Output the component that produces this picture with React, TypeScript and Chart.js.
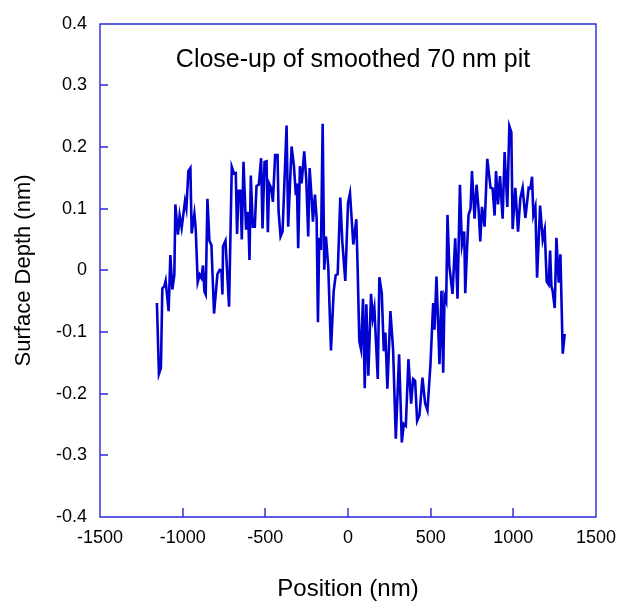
import React, { useEffect, useRef } from "react";
import { Chart, registerables } from "chart.js";

Chart.register(...registerables);

const chartTitle = "Close-up of smoothed 70 nm pit";
const xAxisTitle = "Position (nm)";
const yAxisTitle = "Surface Depth (nm)";

const positions = [
  -1155.8, -1143.6, -1131.5, -1123, -1110.9, -1103, -1084.8, -1074.5, -1062.4, -1050.3,
  -1044.2, -1028.5, -1018.2, -1006.1, -986.1, -977.6, -965.5, -953.3, -945.5, -929.1,
  -921.2, -909.1, -897, -886.7, -877, -868.5, -860.6, -850.3, -838.2, -826.1,
  -810.3, -789.7, -775.8, -765.5, -759.4, -755.8, -741.2, -719.4, -703, -689.1,
  -678.8, -670.9, -662.4, -650.3, -642.4, -632.1, -616.4, -604.2, -595.8, -587.9,
  -575.8, -563.6, -553.3, -539.4, -525.5, -517, -504.8, -492.7, -484.8, -477,
  -464.8, -454.5, -440.6, -426.1, -420, -407.9, -395.8, -371.5, -361.8, -341.2,
  -327.3, -315.2, -309.1, -301.2, -290.9, -280.6, -264.8, -252.7, -240.6, -232.1,
  -220, -212.1, -200, -189.7, -181.8, -173.9, -163.6, -153.3, -143.6, -133.3,
  -119.4, -103, -86.7, -74.5, -62.4, -46.7, -34.5, -16.4, 0, 12.1,
  32.1, 50.3, 58.8, 68.5, 78.8, 90.9, 101.2, 110.9, 123, 139.4,
  149.7, 159.4, 180, 189.7, 204.2, 216.4, 226.1, 238.2, 256.4, 272.7,
  289.1, 309.1, 325.5, 337.6, 349.7, 365.5, 381.8, 393.9, 406.1, 418.2,
  432.1, 450.3, 466.7, 480.6, 498.8, 515.2, 523, 535.2, 553.3, 565.5,
  575.8, 583.6, 593.9, 601.8, 612.1, 632.1, 648.5, 662.4, 677, 689.1,
  703, 709.1, 719.4, 729.1, 741.2, 749.7, 765.5, 777.6, 789.7, 800,
  810.3, 826.1, 842.4, 862.4, 874.5, 886.7, 895.2, 907.3, 919.4, 935.2,
  947.3, 963.6, 975.8, 987.9, 995.8, 1012.1, 1028.5, 1042.4, 1056.4, 1072.7,
  1092.7, 1103, 1113.3, 1121.2, 1133.3, 1143.6, 1161.8, 1177.6, 1189.7, 1201.8,
  1213.9, 1222.4, 1230.3, 1238.2, 1250.3, 1260.6, 1274.5, 1284.8, 1298.8, 1310.9,
];

const depths = [
  -0.053, -0.168, -0.158, -0.029, -0.026, -0.017, -0.066, 0.025, -0.031, -0.007,
  0.107, 0.058, 0.089, 0.069, 0.112, 0.1, 0.161, 0.166, 0.06, 0.092,
  0.068, -0.019, -0.007, -0.012, 0.008, -0.034, -0.039, 0.116, 0.048, 0.041,
  -0.07, -0.006, 0.001, 0.0, -0.039, 0.039, 0.048, -0.059, 0.168, 0.157,
  0.158, 0.059, 0.129, 0.129, 0.05, 0.176, 0.066, 0.095, 0.017, 0.154,
  0.071, 0.071, 0.137, 0.139, 0.182, 0.068, 0.176, 0.177, 0.062, 0.141,
  0.134, 0.111, 0.187, 0.187, 0.096, 0.055, 0.063, 0.235, 0.071, 0.201,
  0.17, 0.122, 0.141, 0.036, 0.169, 0.141, 0.193, 0.149, 0.055, 0.166,
  0.117, 0.079, 0.123, 0.084, -0.084, 0.053, 0.033, 0.238, 0.001, 0.055,
  0.006, -0.13, -0.034, -0.008, -0.006, 0.118, 0.047, -0.017, 0.109, 0.125,
  0.042, 0.083, -0.002, -0.115, -0.128, -0.046, -0.191, -0.055, -0.171, -0.038,
  -0.077, -0.061, -0.176, -0.011, -0.037, -0.131, -0.101, -0.192, -0.066, -0.128,
  -0.273, -0.136, -0.279, -0.249, -0.252, -0.144, -0.216, -0.176, -0.179, -0.244,
  -0.235, -0.174, -0.216, -0.227, -0.152, -0.053, -0.096, -0.01, -0.152, -0.033,
  -0.166, -0.042, -0.05, 0.09, 0.009, -0.038, 0.052, -0.046, 0.139, 0.041,
  0.063, -0.037, 0.031, 0.09, 0.1, 0.161, 0.084, 0.139, 0.1, 0.047,
  0.103, 0.071, 0.181, 0.134, 0.133, 0.089, 0.161, 0.107, 0.153, 0.084,
  0.192, 0.103, 0.234, 0.224, 0.067, 0.134, 0.063, 0.117, 0.134, 0.085,
  0.134, 0.133, 0.152, 0.09, 0.103, -0.012, 0.105, 0.05, 0.066, -0.018,
  -0.023, 0.032, -0.026, -0.034, -0.061, 0.053, -0.02, 0.026, -0.135, -0.103,
];

const xMin = -1500;
const xMax = 1500;
const xStep = 500;
const yMin = -0.4;
const yMax = 0.4;
const yStep = 0.1;

const BLUE = "#0000d0";
const FRAME = "#2828d8";
const FONT = "'Liberation Sans', Arial, Helvetica, sans-serif";

const framePlugin = {
  id: "frameAndTitle",
  afterDraw(chart: any) {
    const { ctx } = chart;
    const xs = chart.scales.x;
    const ys = chart.scales.y;
    const left = Math.round(xs.getPixelForValue(xMin));
    const right = Math.round(xs.getPixelForValue(xMax));
    const top = Math.round(ys.getPixelForValue(yMax));
    const bottom = Math.round(ys.getPixelForValue(yMin));
    ctx.save();
    ctx.strokeStyle = FRAME;
    ctx.lineWidth = 1.4;
    ctx.beginPath();
    ctx.moveTo(left, top);
    ctx.lineTo(right, top);
    ctx.lineTo(right, bottom);
    ctx.lineTo(left, bottom);
    ctx.closePath();
    const nx = Math.round((xMax - xMin) / xStep);
    for (let i = 1; i < nx; i++) {
      const px = Math.round(xs.getPixelForValue(xMin + i * xStep));
      ctx.moveTo(px, bottom);
      ctx.lineTo(px, bottom - 9);
    }
    const ny = Math.round((yMax - yMin) / yStep);
    for (let i = 0; i <= ny; i++) {
      const py = Math.round(ys.getPixelForValue(yMin + i * yStep));
      ctx.moveTo(left, py);
      ctx.lineTo(left + 8, py);
    }
    ctx.stroke();
    ctx.fillStyle = "#000";
    ctx.font = `25px ${FONT}`;
    ctx.textAlign = "center";
    ctx.textBaseline = "middle";
    ctx.fillText(chartTitle, (left + right) / 2 + 5, top + 36);
    ctx.restore();
  },
};

export default function App() {
  const ref = useRef<HTMLCanvasElement | null>(null);

  useEffect(() => {
    if (!ref.current) return;
    const chart = new Chart(ref.current, {
      type: "line",
      data: {
        datasets: [
          {
            data: positions.map((x, i) => ({ x, y: depths[i] })),
            borderColor: BLUE,
            borderWidth: 2.6,
            pointRadius: 0,
            tension: 0,
            fill: false,
          },
        ],
      },
      options: {
        responsive: false,
        animation: false,
        layout: { padding: { top: 21, right: 25, left: 0, bottom: 0 } },
        plugins: {
          legend: { display: false },
          tooltip: { enabled: false },
        },
        scales: {
          x: {
            type: "linear",
            min: xMin,
            max: xMax,
            grid: { display: false, drawTicks: false },
            border: { display: false },
            ticks: {
              stepSize: xStep,
              padding: 10,
              color: "#000",
              font: { size: 18, family: FONT },
              maxRotation: 0,
              callback: (v: any) => String(Math.round(Number(v))),
            },
            title: {
              display: true,
              text: xAxisTitle,
              color: "#000",
              font: { size: 24, family: FONT },
              padding: { top: 0, bottom: 10 },
            },
            afterFit(scale: any) {
              scale.height = 97;
              scale.paddingRight = 0;
              scale.paddingLeft = 0;
            },
          },
          y: {
            type: "linear",
            min: yMin,
            max: yMax,
            grid: { display: false, drawTicks: false },
            border: { display: false },
            ticks: {
              stepSize: yStep,
              padding: 13,
              color: "#000",
              font: { size: 18, family: FONT },
              callback: (v: any) => String(Number(Number(v).toFixed(1))),
            },
            title: {
              display: true,
              text: yAxisTitle,
              color: "#000",
              font: { size: 22, family: FONT },
              padding: { top: 11, bottom: 0 },
            },
            afterFit(scale: any) {
              scale.width = 100;
            },
          },
        },
      },
      plugins: [framePlugin],
    });
    return () => chart.destroy();
  }, []);

  return (
    <div style={{ position: "absolute", left: 0, top: 0, width: 621, height: 614, background: "#fff" }}>
      <canvas ref={ref} width={621} height={614} style={{ display: "block" }} />
    </div>
  );
}
